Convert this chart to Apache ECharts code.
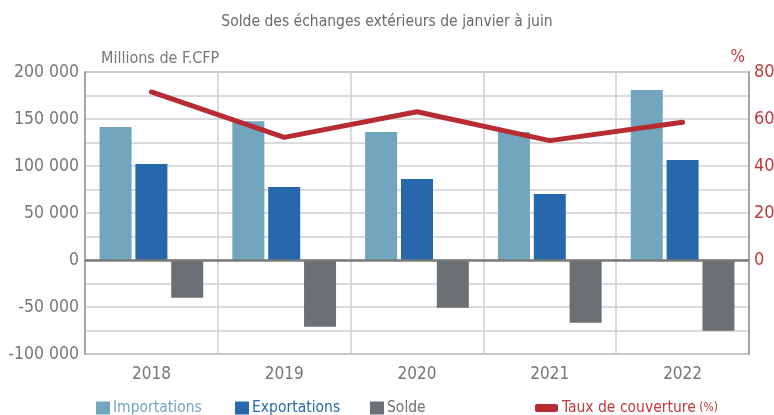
<!DOCTYPE html>
<html>
<head>
<meta charset="utf-8">
<script src="https://cdn.jsdelivr.net/npm/echarts@6/dist/echarts.min.js"></script>
<style>
  html, body { margin: 0; padding: 0; background: #fff; }
  #main { width: 774px; height: 415px; }
</style>
</head>
<body>
<div id="main"></div>
<script>
const years = ['2018', '2019', '2020', '2021', '2022'];
const importations = [141500, 147500, 136200, 136200, 180800];
const exportations = [102100, 77700, 86200, 70200, 106400];
const solde = [-40100, -70900, -50700, -66700, -75200];
const taux = [71.5, 52.2, 63.1, 50.8, 58.6];

const font = '"DejaVu Sans Condensed", "Liberation Sans Narrow", sans-serif';
const grey = '#767676';
const red = '#c0393f';

const chartDom = document.getElementById('main');
const myChart = echarts.init(chartDom);

// one legend per item so each sits where it is in the picture
function barLegend(name, color, left) {
    return {
        left: left,
        top: 400,
        padding: 0,
        itemWidth: 14,
        itemHeight: 13,
        icon: 'rect',
        textStyle: { fontSize: 15.5, fontFamily: font, color: color, padding: [0, 0, 0, -2] },
        data: [name]
    };
}

const option = {
    animation: false,
    textStyle: { fontFamily: font },
    title: {
        text: 'Solde des échanges extérieurs de janvier à juin',
        left: 'center',
        top: 9,
        textStyle: { color: '#6a6a6a', fontWeight: 'normal', fontSize: 15.5, fontFamily: font }
    },
    grid: {
        left: 85,
        right: 25,
        top: 72,
        bottom: 61,
        outerBoundsMode: 'none',
        containLabel: false,
        show: true,
        borderColor: '#9a9a9a',
        borderWidth: 1.5
    },
    legend: [
        barLegend('Importations', '#72a5be', 96),
        barLegend('Exportations', '#2668ab', 235),
        barLegend('Solde', '#6c7073', 370),
        {
            left: 535,
            top: 400,
            padding: 0,
            itemWidth: 23,
            itemHeight: 8,
            icon: 'roundRect',
            formatter: function () { return '{a|Taux de couverture} {b|(%)}'; },
            textStyle: {
                color: red,
                fontFamily: font,
                padding: [0, 0, 0, -1],
                rich: {
                    a: { fontSize: 15.5, color: red, fontFamily: font },
                    b: { fontSize: 12, color: red, fontFamily: font }
                }
            },
            data: ['Taux de couverture (%)']
        }
    ],
    xAxis: {
        type: 'category',
        data: years,
        axisLine: { onZero: false, show: false },
        axisTick: { show: false },
        axisLabel: { color: grey, fontSize: 17, margin: 12, fontFamily: font },
        splitLine: { show: true, lineStyle: { color: '#cfcfcf', width: 1.5 } }
    },
    yAxis: [
        {
            type: 'value',
            min: -100000,
            max: 200000,
            interval: 25000,
            name: 'Millions de F.CFP',
            nameLocation: 'end',
            nameGap: 5,
            nameTextStyle: { color: grey, fontSize: 16, align: 'left', padding: [0, 0, 0, 16], fontFamily: font },
            axisLine: { show: true, lineStyle: { color: '#9a9a9a', width: 1.5 } },
            axisTick: { show: false },
            axisLabel: {
                color: grey,
                fontSize: 17.5,
                margin: 6,
                fontFamily: font,
                formatter: function (v) {
                    if (v % 50000 !== 0) return '';
                    const s = Math.abs(v).toString().replace(/\B(?=(\d{3})+(?!\d))/g, ' ');
                    return (v < 0 ? '-' : '') + s;
                }
            },
            splitLine: { show: true, lineStyle: { color: '#cfcfcf', width: 1.5 } }
        },
        {
            type: 'value',
            min: -40,
            max: 80,
            interval: 10,
            position: 'right',
            name: '%',
            nameLocation: 'end',
            nameGap: 6,
            nameTextStyle: { color: red, fontSize: 17, align: 'right', padding: [0, 4, 0, 0], fontFamily: font },
            axisLine: { show: true, lineStyle: { color: '#9a9a9a', width: 1.5 } },
            axisTick: { show: false },
            axisLabel: {
                color: red,
                fontSize: 18,
                margin: 5,
                fontFamily: font,
                formatter: function (v) { return (v >= 0 && v % 20 === 0) ? String(v) : ''; }
            },
            splitLine: { show: false }
        }
    ],
    series: [
        {
            name: 'Importations',
            type: 'bar',
            barWidth: 32,
            barGap: '12%',
            itemStyle: { color: '#72a5be' },
            data: importations,
            markLine: {
                silent: true,
                symbol: 'none',
                label: { show: false },
                lineStyle: { color: '#7a7a7a', width: 2.5, type: 'solid' },
                data: [{ yAxis: 0 }]
            }
        },
        {
            name: 'Exportations',
            type: 'bar',
            barWidth: 32,
            barGap: '12%',
            itemStyle: { color: '#2668ab' },
            data: exportations
        },
        {
            name: 'Solde',
            type: 'bar',
            barWidth: 32,
            barGap: '12%',
            itemStyle: { color: '#6c7073' },
            data: solde
        },
        {
            name: 'Taux de couverture (%)',
            type: 'line',
            yAxisIndex: 1,
            symbol: 'none',
            z: 5,
            itemStyle: { color: '#b72c33' },
            lineStyle: { color: '#b72c33', width: 5, cap: 'round', join: 'round' },
            data: taux
        }
    ]
};

myChart.setOption(option);
</script>
</body>
</html>
